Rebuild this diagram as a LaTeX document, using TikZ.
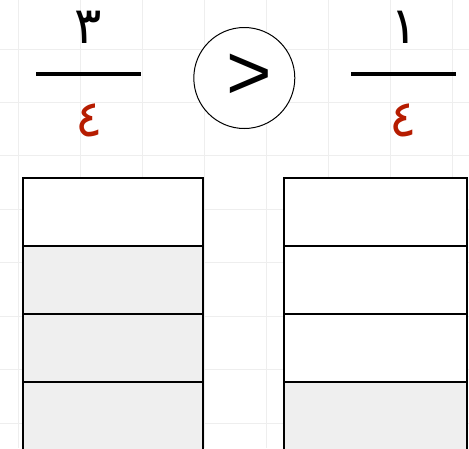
\documentclass[tikz,border=0pt]{standalone}
\usepackage{fontspec}
\setmainfont{Liberation Sans}
\newfontfamily\arabicfont[Script=Arabic]{DejaVu Sans}
\TeXXeTstate=1
\definecolor{gridgray}{HTML}{EEEEEE}
\definecolor{shade}{HTML}{EFEFEF}
\definecolor{digitred}{RGB}{182,28,0}
\tikzset{
  gridline/.style={draw=gridgray, line width=1pt},
  cell/.style={draw=black, line width=2.7pt, rectangle, inner sep=0pt, anchor=center},
  leftcell/.style={cell, minimum width=180pt, minimum height=68pt},
  rightcell/.style={cell, minimum width=183pt, minimum height=68pt},
  digit/.style={inner sep=0pt, font=\arabicfont\fontsize{51}{55}\selectfont},
  numer/.style={digit, text=black},
  denom/.style={digit, text=digitred},
  fracbar/.style={draw=black, line width=4pt},
  compcircle/.style={circle, draw=black, line width=1pt, fill=white, minimum size=101pt, inner sep=0pt},
}
\begin{document}
\begin{tikzpicture}[x=1pt,y=-1pt]
\useasboundingbox (0,0) rectangle (469,448);
\begin{scope}
\clip (0,0) rectangle (469,448);
\fill[white] (0,0) rectangle (469,448);
% grid
\foreach \k in {0,...,7} {
  \draw[gridline] ({18+62*\k},0) -- ({18+62*\k},448);
  \draw[gridline] (0,{49+53.43*\k}) -- (469,{49+53.43*\k});
}
% left bar (3/4 shaded)
\node[leftcell, fill=white] (L1) at (113,212) {};
\node[leftcell, fill=shade] (L2) at (113,280) {};
\node[leftcell, fill=shade] (L3) at (113,348) {};
\node[leftcell, fill=shade] (L4) at (113,416) {};
% right bar (1/4 shaded)
\node[rightcell, fill=white] (R1) at (375.5,212) {};
\node[rightcell, fill=white] (R2) at (375.5,280) {};
\node[rightcell, fill=white] (R3) at (375.5,348) {};
\node[rightcell, fill=shade] (R4) at (375.5,416) {};
\end{scope}
% left fraction
\node[numer] (ln) at (88,27) {\beginR ٣\endR};
\coordinate (lbA) at (36,74);
\coordinate (lbB) at (141,74);
\draw[fracbar] (lbA) -- (lbB);
\node[denom] (ld) at (89,120) {\beginR ٤\endR};
% comparison
\node[compcircle] (cmp) at (244.3,78) {};
\node[inner sep=0pt, font=\fontsize{78}{80}\selectfont] (gt) at (249,77) {>};
% right fraction
\node[numer] (rn) at (404,27.5) {\beginR ١\endR};
\coordinate (rbA) at (351,74);
\coordinate (rbB) at (456,74);
\draw[fracbar] (rbA) -- (rbB);
\node[denom] (rd) at (403,120) {\beginR ٤\endR};
\end{tikzpicture}
\end{document}
